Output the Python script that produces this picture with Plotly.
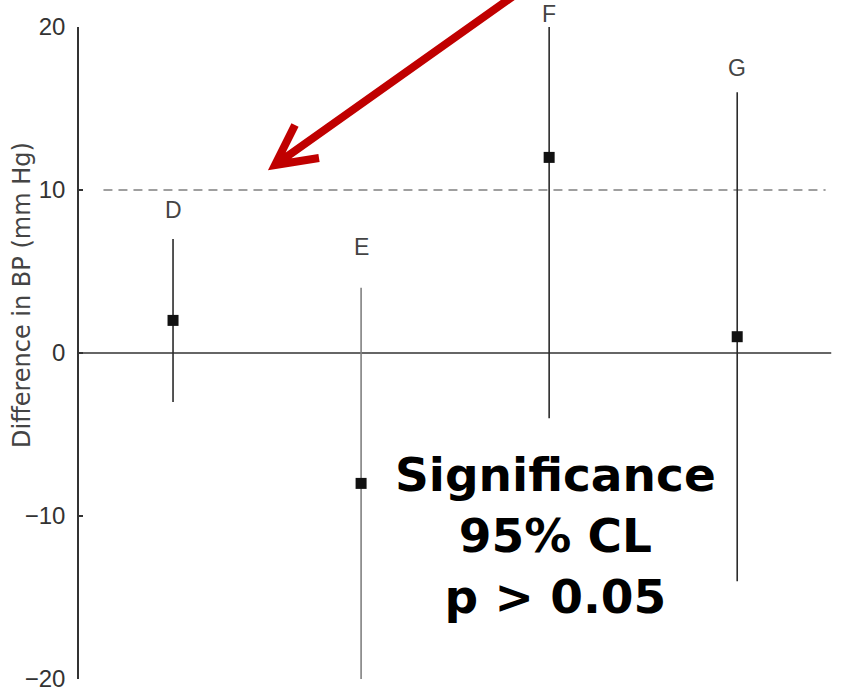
import plotly.graph_objects as go

# Groups, point estimates and 95% confidence limits (mm Hg)
groups = ["D", "E", "F", "G"]
means = [2, -8, 12, 1]
lower = [-3, -20, -4, -14]
upper = [7, 4, 20, 16]
bar_colors = ["#2b2b2b", "#808080", "#2b2b2b", "#2b2b2b"]

y_ticks = [-20, -10, 0, 10, 20]
threshold = 10
y_title = "Difference in BP (mm Hg)"
note_lines = ["Significance", "95% CL", "p > 0.05"]

W, H = 856, 691
L, R, T, B = 79, 21, 27, 12
xpos = list(range(1, len(groups) + 1))

fig = go.Figure()

for i, g in enumerate(groups):
    fig.add_trace(go.Scatter(
        x=[xpos[i]], y=[means[i]],
        mode="markers",
        marker=dict(symbol="square", size=11, color="#111111"),
        error_y=dict(
            type="data", symmetric=False,
            array=[upper[i] - means[i]],
            arrayminus=[means[i] - lower[i]],
            width=0, thickness=1.6, color=bar_colors[i],
        ),
        showlegend=False, hoverinfo="skip", cliponaxis=False,
    ))

# zero reference and clinically relevant threshold
fig.add_shape(type="line", xref="x", yref="y", x0=0.5, x1=4.5, y0=0, y1=0,
              line=dict(color="#333333", width=1.6), layer="below")
fig.add_shape(type="line", xref="x", yref="y", x0=0.63, x1=4.47,
              y0=threshold, y1=threshold,
              line=dict(color="#808080", width=1.6, dash="9px,6px"), layer="below")

# group labels above each interval
label_shift = [29, 41, 13, 24]
for i, g in enumerate(groups):
    fig.add_annotation(x=xpos[i], y=upper[i], xref="x", yref="y", text=g,
                       showarrow=False, yanchor="middle", yshift=label_shift[i],
                       font=dict(family="Liberation Sans, Arial",
                                 size=23, color="#444444"))

# helpers converting pixel positions to paper coordinates
pw, ph = W - L - R, H - T - B


def px(x):
    return (x - L) / pw


def py(y):
    return (H - B - y) / ph


# red pointer arrow
tip = (275, 165)
tail = (536, -20)
barb1 = (295, 125)
barb2 = (319, 158)
path = (f"M {px(tail[0])},{py(tail[1])} L {px(tip[0])},{py(tip[1])} "
        f"M {px(barb1[0])},{py(barb1[1])} L {px(tip[0])},{py(tip[1])} "
        f"L {px(barb2[0])},{py(barb2[1])}")
fig.add_shape(type="path", xref="paper", yref="paper", path=path,
              line=dict(color="#C00000", width=8))

# y-axis title
fig.add_annotation(x=px(22), y=py(295), xref="paper", yref="paper",
                   text=y_title, textangle=-90, showarrow=False,
                   xanchor="center", yanchor="middle",
                   font=dict(family="DejaVu Sans", size=24, color="#444444"))

fig.add_annotation(x=px(555.5), y=py(535), xref="paper", yref="paper",
                   text="<br>".join(note_lines), showarrow=False,
                   xanchor="center", yanchor="middle", align="center",
                   font=dict(family="DejaVu Sans", size=47, color="#000000",
                             weight="bold"))

fig.update_layout(
    width=W, height=H,
    margin=dict(l=L, r=R, t=T, b=B, autoexpand=False),
    paper_bgcolor="white", plot_bgcolor="white",
    xaxis=dict(visible=False, range=[0.5, 4.52], automargin=False),
    yaxis=dict(
        range=[-20, 20], tickvals=y_ticks, automargin=False,
        showgrid=False, zeroline=False,
        showline=True, linecolor="#333333", linewidth=1.5,
        ticks="inside", ticklen=4, tickcolor="#333333", tickwidth=1.5,
        ticklabelstandoff=7, ticklabeloverflow="allow",
        tickfont=dict(family="Liberation Sans, Arial", size=24, color="#333333"),
    ),
)

fig.write_html("out.html")
